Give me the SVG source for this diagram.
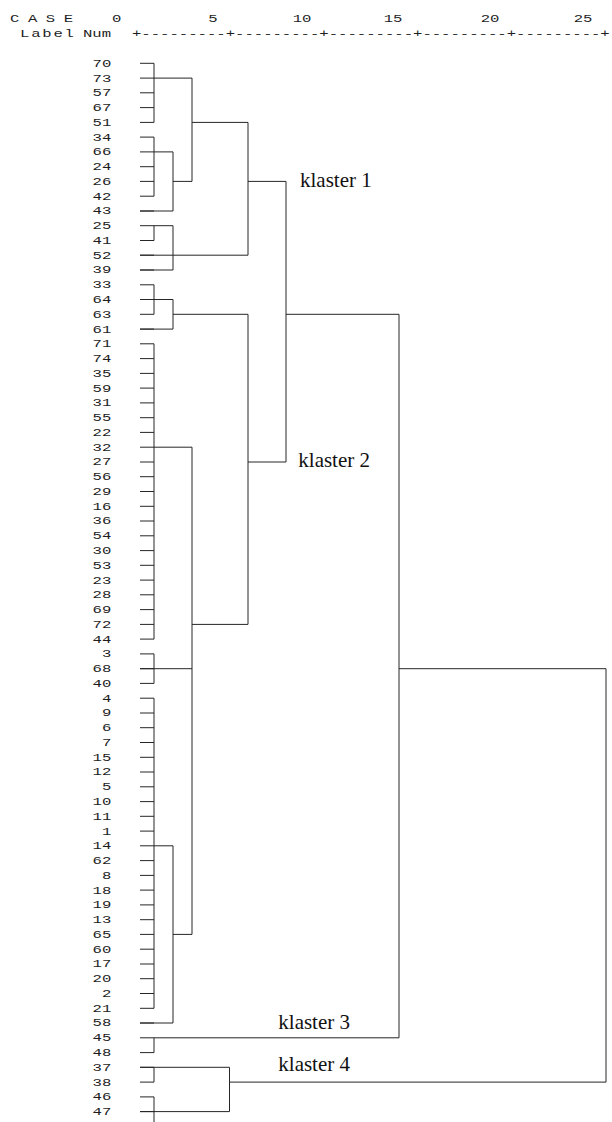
<svg xmlns="http://www.w3.org/2000/svg" width="612" height="1122" viewBox="0 0 612 1122">
<style>
text{font-family:"Liberation Mono","DejaVu Sans Mono",monospace;font-size:11px;fill:#1e1e1e}
.lb{text-anchor:end}
.kl{font-family:"Liberation Serif","Times New Roman",serif;font-size:21px;fill:#111}
.c{fill:none;stroke:#262626;stroke-width:1}
</style>
<rect width="612" height="1122" fill="#fff"/>
<g id="header" transform="scale(1.42,1)">
<text x="7.04" y="21.6" textLength="44.4" lengthAdjust="spacing">C A S E</text>
<text x="82.2" y="21.6" text-anchor="middle">0</text>
<text x="150" y="21.6" text-anchor="middle">5</text>
<text x="212.7" y="21.6" text-anchor="middle">10</text>
<text x="276.8" y="21.6" text-anchor="middle">15</text>
<text x="345.1" y="21.6" text-anchor="middle">20</text>
<text x="410.6" y="21.6" text-anchor="middle">25</text>
<text x="14.1" y="36.8" textLength="38" lengthAdjust="spacing">Label</text>
<text x="58.45" y="36.8">Num</text>
<text x="92.96" y="36.8">+---------+---------+---------+---------+---------+</text>
</g>
<g id="leaves" transform="scale(1.42,1)">
<g id="n70"><text class="lb" x="78.4" y="66.8">70</text></g>
<g id="n73"><text class="lb" x="78.4" y="81.6">73</text></g>
<g id="n57"><text class="lb" x="78.4" y="96.3">57</text></g>
<g id="n67"><text class="lb" x="78.4" y="111.1">67</text></g>
<g id="n51"><text class="lb" x="78.4" y="125.9">51</text></g>
<g id="n34"><text class="lb" x="78.4" y="140.6">34</text></g>
<g id="n66"><text class="lb" x="78.4" y="155.4">66</text></g>
<g id="n24"><text class="lb" x="78.4" y="170.2">24</text></g>
<g id="n26"><text class="lb" x="78.4" y="184.9">26</text></g>
<g id="n42"><text class="lb" x="78.4" y="199.7">42</text></g>
<g id="n43"><text class="lb" x="78.4" y="214.5">43</text></g>
<g id="n25"><text class="lb" x="78.4" y="229.2">25</text></g>
<g id="n41"><text class="lb" x="78.4" y="244.0">41</text></g>
<g id="n52"><text class="lb" x="78.4" y="258.8">52</text></g>
<g id="n39"><text class="lb" x="78.4" y="273.5">39</text></g>
<g id="n33"><text class="lb" x="78.4" y="288.3">33</text></g>
<g id="n64"><text class="lb" x="78.4" y="303.0">64</text></g>
<g id="n63"><text class="lb" x="78.4" y="317.8">63</text></g>
<g id="n61"><text class="lb" x="78.4" y="332.6">61</text></g>
<g id="n71"><text class="lb" x="78.4" y="347.3">71</text></g>
<g id="n74"><text class="lb" x="78.4" y="362.1">74</text></g>
<g id="n35"><text class="lb" x="78.4" y="376.9">35</text></g>
<g id="n59"><text class="lb" x="78.4" y="391.6">59</text></g>
<g id="n31"><text class="lb" x="78.4" y="406.4">31</text></g>
<g id="n55"><text class="lb" x="78.4" y="421.2">55</text></g>
<g id="n22"><text class="lb" x="78.4" y="435.9">22</text></g>
<g id="n32"><text class="lb" x="78.4" y="450.7">32</text></g>
<g id="n27"><text class="lb" x="78.4" y="465.5">27</text></g>
<g id="n56"><text class="lb" x="78.4" y="480.2">56</text></g>
<g id="n29"><text class="lb" x="78.4" y="495.0">29</text></g>
<g id="n16"><text class="lb" x="78.4" y="509.8">16</text></g>
<g id="n36"><text class="lb" x="78.4" y="524.5">36</text></g>
<g id="n54"><text class="lb" x="78.4" y="539.3">54</text></g>
<g id="n30"><text class="lb" x="78.4" y="554.1">30</text></g>
<g id="n53"><text class="lb" x="78.4" y="568.8">53</text></g>
<g id="n23"><text class="lb" x="78.4" y="583.6">23</text></g>
<g id="n28"><text class="lb" x="78.4" y="598.3">28</text></g>
<g id="n69"><text class="lb" x="78.4" y="613.1">69</text></g>
<g id="n72"><text class="lb" x="78.4" y="627.9">72</text></g>
<g id="n44"><text class="lb" x="78.4" y="642.6">44</text></g>
<g id="n3"><text class="lb" x="78.4" y="657.4">3</text></g>
<g id="n68"><text class="lb" x="78.4" y="672.2">68</text></g>
<g id="n40"><text class="lb" x="78.4" y="686.9">40</text></g>
<g id="n4"><text class="lb" x="78.4" y="701.7">4</text></g>
<g id="n9"><text class="lb" x="78.4" y="716.5">9</text></g>
<g id="n6"><text class="lb" x="78.4" y="731.2">6</text></g>
<g id="n7"><text class="lb" x="78.4" y="746.0">7</text></g>
<g id="n15"><text class="lb" x="78.4" y="760.8">15</text></g>
<g id="n12"><text class="lb" x="78.4" y="775.5">12</text></g>
<g id="n5"><text class="lb" x="78.4" y="790.3">5</text></g>
<g id="n10"><text class="lb" x="78.4" y="805.1">10</text></g>
<g id="n11"><text class="lb" x="78.4" y="819.8">11</text></g>
<g id="n1"><text class="lb" x="78.4" y="834.6">1</text></g>
<g id="n14"><text class="lb" x="78.4" y="849.4">14</text></g>
<g id="n62"><text class="lb" x="78.4" y="864.1">62</text></g>
<g id="n8"><text class="lb" x="78.4" y="878.9">8</text></g>
<g id="n18"><text class="lb" x="78.4" y="893.6">18</text></g>
<g id="n19"><text class="lb" x="78.4" y="908.4">19</text></g>
<g id="n13"><text class="lb" x="78.4" y="923.2">13</text></g>
<g id="n65"><text class="lb" x="78.4" y="937.9">65</text></g>
<g id="n60"><text class="lb" x="78.4" y="952.7">60</text></g>
<g id="n17"><text class="lb" x="78.4" y="967.5">17</text></g>
<g id="n20"><text class="lb" x="78.4" y="982.2">20</text></g>
<g id="n2"><text class="lb" x="78.4" y="997.0">2</text></g>
<g id="n21"><text class="lb" x="78.4" y="1011.8">21</text></g>
<g id="n58"><text class="lb" x="78.4" y="1026.5">58</text></g>
<g id="n45"><text class="lb" x="78.4" y="1041.3">45</text></g>
<g id="n48"><text class="lb" x="78.4" y="1056.1">48</text></g>
<g id="n37"><text class="lb" x="78.4" y="1070.8">37</text></g>
<g id="n38"><text class="lb" x="78.4" y="1085.6">38</text></g>
<g id="n46"><text class="lb" x="78.4" y="1100.4">46</text></g>
<g id="n47"><text class="lb" x="78.4" y="1115.1">47</text></g>
</g>
<g id="cluster-labels">
<g id="klaster1"><text class="kl" x="300" y="186.7">klaster 1</text></g>
<g id="klaster2"><text class="kl" x="298.3" y="466.7">klaster 2</text></g>
<g id="klaster3"><text class="kl" x="278.3" y="1029.3">klaster 3</text></g>
<g id="klaster4"><text class="kl" x="278.3" y="1071">klaster 4</text></g>
</g>
<g id="connectors" class="c">
<path class="c" d="M140 63.3h14M140 78.1h14M140 92.8h14M140 107.6h14M140 122.4h14M140 137.1h14M140 151.9h14M140 166.7h14M140 181.4h14M140 196.2h14M140 211h14M140 225.7h14M140 240.5h14M140 255.2h14M140 270h14M140 284.8h14M140 299.5h14M140 314.3h14M140 329.1h14M140 343.8h14M140 358.6h14M140 373.4h14M140 388.1h14M140 402.9h14M140 417.7h14M140 432.4h14M140 447.2h14M140 462h14M140 476.7h14M140 491.5h14M140 506.3h14M140 521h14M140 535.8h14M140 550.6h14M140 565.3h14M140 580.1h14M140 594.8h14M140 609.6h14M140 624.4h14M140 639.1h14M140 653.9h14M140 668.7h14M140 683.4h14M140 698.2h14M140 713h14M140 727.7h14M140 742.5h14M140 757.3h14M140 772h14M140 786.8h14M140 801.6h14M140 816.3h14M140 831.1h14M140 845.8h14M140 860.6h14M140 875.4h14M140 890.1h14M140 904.9h14M140 919.7h14M140 934.4h14M140 949.2h14M140 964h14M140 978.7h14M140 993.5h14M140 1008.3h14M140 1023h14M140 1037.8h14M140 1052.6h14M140 1067.3h14M140 1082.1h14M140 1096.9h14M140 1111.6h14"/>
<path class="c" d="M154 63.3V122.4M154 137.1V196.2M154 225.7V240.5M154 284.8V314.3M154 343.8V639.1M154 653.9V683.4M154 698.2V1008.3M154 1037.8V1052.6M154 1067.3V1082.1M154 1096.9V1122"/>
<path class="c" d="M154 78.1H192V181.4M154 151.9H173V211H140M173 181.4H192M192 122.4H248V255.2H140M154 225.7H173V270H140M248 181.4H286V462H248M154 299.5H173V329.1H140M173 314.3H248V624.4H192M286 314.3H399V1037.8H154M154 447.2H192V934.4H173M140 668.7H192M154 845.8H173V1023H140M399 668.7H606V1082.1H229.5M140 1067.3H229.5V1111.6H140"/>
</g>
</svg>
